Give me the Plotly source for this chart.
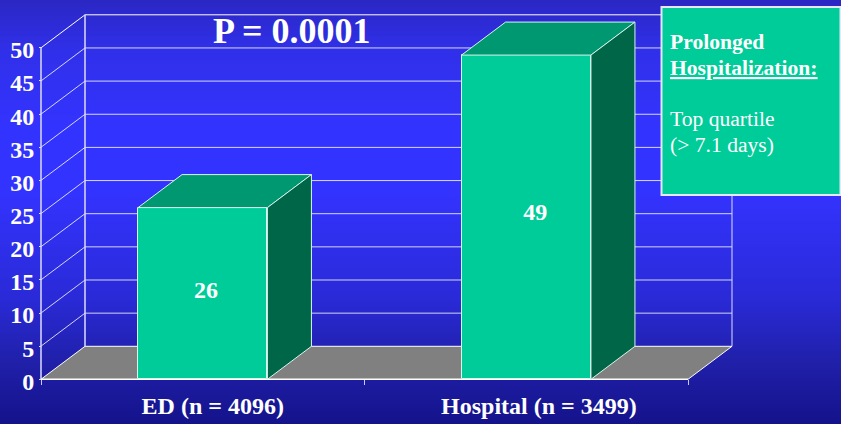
import plotly.graph_objects as go

# --- data ---
categories = ["ED (n = 4096)", "Hospital (n = 3499)"]
category_pos = [0.5, 1.5]
bar_values = [25.9, 48.9]
value_labels = ["26", "49"]
value_label_x = [0.51, 1.528]
value_label_y = [13.1, 25.0]
category_label_pos = [0.531, 1.539]
y_ticks = [0, 5, 10, 15, 20, 25, 30, 35, 40, 45, 50]
title_text = "P = 0.0001"
box_bold_lines = ["Prolonged", "<u>Hospitalization:</u>"]
box_plain_lines = ["Top quartile", "(> 7.1 days)"]

# --- style / geometry ---
W, H = 841, 424
PX_X, PX_Y = 323.5, 6.63      # pixels per axis unit
X0_PX, Y0_PX = 41, 379.3      # pixel of x=0, y=0
DX, DY = 44 / PX_X, 33 / PX_Y # 3D depth in axis units
BAR_W = 0.4
FONT = "Liberation Serif"
FRONT, TOP, SIDE, FLOOR = "#00cc99", "#009870", "#006648", "#808080"
EDGE = "#d6f5ec"
GRID = "rgba(255,255,255,0.8)"
WHITE = "#ffffff"

grad_stops = [(0, "#2b27c4"), (0.12, "#3030ea"), (0.3, "#3333ff"), (0.45, "#3333ff"),
              (0.7, "#2a2ad8"), (0.85, "#2020aa"), (1, "#14128a")]

fig = go.Figure()

# background gradient
rows = list(range(H + 1))
fig.add_trace(go.Heatmap(x=[0, 1], y=rows, z=[[r, r] for r in rows], zmin=0, zmax=H,
                         colorscale=[[s, c] for s, c in grad_stops], showscale=False,
                         hoverinfo="skip", xaxis="x", yaxis="y"))

shapes = []
def seg(x0, y0, x1, y1, color=GRID, width=1):
    shapes.append(dict(type="line", xref="x2", yref="y2", x0=x0, y0=y0, x1=x1, y1=y1,
                       layer="below", line=dict(color=color, width=width)))

x_max = 2
# floor
shapes.append(dict(type="path", xref="x2", yref="y2", layer="below",
                   path=f"M0,0 L{x_max},0 L{x_max+DX},{DY} L{DX},{DY} Z",
                   fillcolor=FLOOR, line=dict(width=0)))
for t in y_ticks:
    seg(DX, t + DY, x_max + DX, t + DY, WHITE if t in (0, 50) else GRID, 1)
    seg(0, t, DX, t + DY, WHITE if t in (0, 50) else GRID, 1)
seg(0, 0, 0, y_ticks[-1], "#dcdcff", 1.5)
seg(DX, DY, DX, y_ticks[-1] + DY, "#dcdcff", 1.5)
seg(x_max + DX, DY, x_max + DX, y_ticks[-1] + DY, "#dcdcff", 1)
seg(x_max, 0, x_max + DX, DY, WHITE, 1)
seg(0, 0, x_max, 0, WHITE, 1.5)

# bars: front
fig.add_trace(go.Bar(x=category_pos, y=bar_values, width=BAR_W, xaxis="x2", yaxis="y2",
                     marker=dict(color=FRONT, line=dict(color=EDGE, width=1)),
                     hoverinfo="skip", showlegend=False))
# bars: top and side
for c, v in zip(category_pos, bar_values):
    l, r = c - BAR_W / 2, c + BAR_W / 2
    fig.add_trace(go.Scatter(x=[l, r, r + DX, l + DX, l], y=[v, v, v + DY, v + DY, v],
                             mode="lines", fill="toself", fillcolor=TOP,
                             line=dict(color=EDGE, width=1), hoverinfo="skip",
                             showlegend=False, xaxis="x2", yaxis="y2"))
    fig.add_trace(go.Scatter(x=[r, r + DX, r + DX, r, r], y=[0, DY, v + DY, v, 0],
                             mode="lines", fill="toself", fillcolor=SIDE,
                             line=dict(color=EDGE, width=1), hoverinfo="skip",
                             showlegend=False, xaxis="x2", yaxis="y2"))
# value labels
fig.add_trace(go.Scatter(x=value_label_x, y=value_label_y,
                         text=value_labels, mode="text",
                         textfont=dict(family=FONT, size=24, color=WHITE, weight="bold"),
                         hoverinfo="skip", showlegend=False, xaxis="x2", yaxis="y2"))

def px(x): return x / W
def py(y): return 1 - y / H

# info box
shapes.append(dict(type="rect", xref="paper", yref="paper", layer="above",
                   x0=px(661.5), x1=px(840.5), y0=py(195), y1=py(7),
                   fillcolor=FRONT, line=dict(color="#e6e6ff", width=2)))

annotations = [dict(xref="paper", yref="paper", x=px(292), y=py(31), text=title_text,
                    showarrow=False, xanchor="center", yanchor="middle",
                    font=dict(family=FONT, size=36, color=WHITE, weight="bold"))]
for line, yy, bold in zip(box_bold_lines + box_plain_lines, [42, 68, 119, 145],
                          [True, True, False, False]):
    annotations.append(dict(xref="paper", yref="paper", x=px(668), y=py(yy), text=line,
                            showarrow=False, xanchor="left", yanchor="middle",
                            font=dict(family=FONT, size=21.6, color=WHITE,
                                      weight="bold" if bold else "normal")))

fig.update_layout(
    width=W, height=H, margin=dict(l=0, r=0, t=0, b=0, pad=0),
    paper_bgcolor="#2020aa", plot_bgcolor="rgba(0,0,0,0)",
    showlegend=False, shapes=shapes, annotations=annotations, bargap=0,
    xaxis=dict(domain=[0, 1], range=[0, 1], visible=False, fixedrange=True),
    yaxis=dict(domain=[0, 1], range=[H, 0], visible=False, fixedrange=True),
    xaxis2=dict(domain=[0, 1], range=[-X0_PX / PX_X, (W - X0_PX) / PX_X],
                anchor="free", position=py(Y0_PX), showgrid=False, zeroline=False,
                showline=False, tickmode="array", tickvals=category_label_pos, ticktext=categories,
                ticks="", ticklabelstandoff=10,
                tickfont=dict(family=FONT, size=24, color=WHITE, weight="bold"),
                minor=dict(tickmode="array", tickvals=[0, 1, 2], ticks="outside",
                           ticklen=5, tickcolor="#c8c8ff", tickwidth=1),
                fixedrange=True),
    yaxis2=dict(domain=[0, 1], range=[-(H - Y0_PX) / PX_Y, Y0_PX / PX_Y],
                anchor="free", position=px(X0_PX), showgrid=False, zeroline=False,
                showline=False, tickmode="array", tickvals=y_ticks,
                ticks="outside", ticklen=2, tickcolor="#dcdcff", tickwidth=1, ticklabelshift=2,
                tickfont=dict(family=FONT, size=24, color=WHITE, weight="bold"),
                fixedrange=True),
)

fig.write_html("out.html", config=dict(displayModeBar=False),
               post_script="document.body.style.margin='0';document.body.style.overflow='hidden';")
